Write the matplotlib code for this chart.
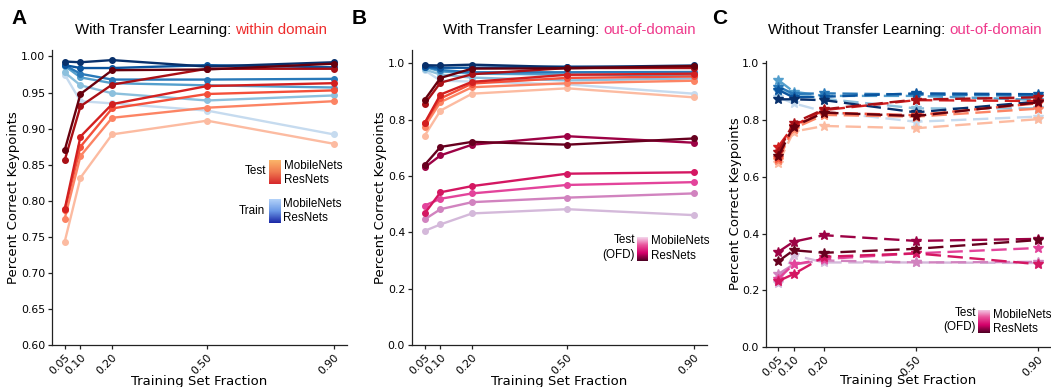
import matplotlib
matplotlib.use("Agg")
import matplotlib.pyplot as plt
import numpy as np
from matplotlib.colors import LinearSegmentedColormap

# data
fractions = [0.05, 0.10, 0.20, 0.50, 0.90]
frac_labels = ["0.05", "0.10", "0.20", "0.50", "0.90"]

# with transfer learning, within domain: test (reds), light -> dark
test_within = [
    [0.743, 0.832, 0.892, 0.911, 0.879],
    [0.775, 0.862, 0.915, 0.929, 0.938],
    [0.787, 0.875, 0.928, 0.948, 0.953],
    [0.788, 0.889, 0.934, 0.959, 0.963],
    [0.856, 0.931, 0.961, 0.983, 0.983],
    [0.870, 0.948, 0.981, 0.982, 0.990],
]
# train (blues), light -> dark
train_within = [
    [0.975, 0.938, 0.935, 0.925, 0.892],
    [0.978, 0.960, 0.949, 0.939, 0.946],
    [0.987, 0.971, 0.963, 0.960, 0.957],
    [0.988, 0.976, 0.968, 0.968, 0.969],
    [0.988, 0.984, 0.984, 0.988, 0.985],
    [0.993, 0.992, 0.995, 0.986, 0.992],
]
# with transfer learning, out-of-domain test (pinks)
test_ofd = [
    [0.405, 0.428, 0.467, 0.482, 0.461],
    [0.446, 0.482, 0.507, 0.523, 0.538],
    [0.495, 0.519, 0.538, 0.568, 0.578],
    [0.467, 0.542, 0.564, 0.608, 0.613],
    [0.630, 0.673, 0.711, 0.741, 0.718],
    [0.639, 0.703, 0.721, 0.711, 0.733],
]
# without transfer learning
train_notl = [
    [0.880, 0.859, 0.830, 0.794, 0.812],
    [0.904, 0.892, 0.875, 0.841, 0.841],
    [0.941, 0.900, 0.885, 0.885, 0.871],
    [0.918, 0.892, 0.894, 0.890, 0.885],
    [0.906, 0.880, 0.882, 0.894, 0.891],
    [0.873, 0.873, 0.870, 0.827, 0.865],
]
test_notl = [
    [0.647, 0.759, 0.779, 0.771, 0.803],
    [0.660, 0.770, 0.818, 0.812, 0.840],
    [0.665, 0.780, 0.826, 0.817, 0.859],
    [0.706, 0.780, 0.835, 0.870, 0.867],
    [0.688, 0.789, 0.838, 0.872, 0.880],
    [0.673, 0.777, 0.826, 0.814, 0.862],
]
ofd_notl = [
    [0.224, 0.324, 0.298, 0.298, 0.296],
    [0.257, 0.291, 0.305, 0.298, 0.300],
    [0.240, 0.291, 0.310, 0.330, 0.349],
    [0.232, 0.257, 0.318, 0.330, 0.292],
    [0.335, 0.371, 0.394, 0.374, 0.381],
    [0.302, 0.341, 0.332, 0.346, 0.377],
]

levels = [0.25, 0.42, 0.57, 0.72, 0.86, 1.0]
reds = [plt.cm.Reds(v) for v in levels]
blues = [plt.cm.Blues(v) for v in levels]
pinks = [plt.cm.PuRd(v) for v in levels]

SANS = "Liberation Sans"
W, H = 1051, 387
fig = plt.figure(figsize=(W / 100, H / 100), dpi=100)

axA = fig.add_axes([52 / W, (H - 345) / H, 295 / W, 295 / H])
axB = fig.add_axes([412 / W, (H - 345) / H, 295 / W, 295 / H])
axC = fig.add_axes([766 / W, (H - 347) / H, 285 / W, 286 / H])


def draw_lines(ax, series, colors, marker="o", ms=4, dashed=False):
    for vals, c in zip(series, colors):
        if dashed:
            ax.plot(fractions, vals, color=c, lw=1.7, marker=marker, ms=ms,
                    dashes=(6.5, 2.8))
        else:
            ax.plot(fractions, vals, color=c, lw=1.7, marker=marker, ms=ms)


draw_lines(axA, train_within, blues)
draw_lines(axA, test_within, reds)

draw_lines(axB, train_within, blues)
draw_lines(axB, test_within, reds)
draw_lines(axB, test_ofd, pinks)

draw_lines(axC, train_notl, blues, marker="*", ms=7, dashed=True)
draw_lines(axC, test_notl, reds, marker="*", ms=7, dashed=True)
draw_lines(axC, ofd_notl, pinks, marker="*", ms=7, dashed=True)

axA.set_ylim(0.6, 1.009)
axA.set_yticks(np.arange(0.60, 1.001, 0.05))
axA.set_yticklabels([f"{v:.2f}" for v in np.arange(0.60, 1.001, 0.05)])
for ax in (axB, axC):
    ax.set_yticks(np.arange(0, 1.01, 0.2))
    ax.set_yticklabels([f"{v:.1f}" for v in np.arange(0, 1.01, 0.2)])
axB.set_ylim(0, 1.047)
axC.set_ylim(0, 1.008)

for ax in (axA, axB, axC):
    ax.set_xlim(0.01, 0.942)
    ax.set_xticks(fractions)
    ax.set_xticklabels(frac_labels, rotation=45, ha="right",
                       rotation_mode="anchor")
    for s in ("top", "right"):
        ax.spines[s].set_visible(False)
    for s in ("left", "bottom"):
        ax.spines[s].set_linewidth(0.9)
        ax.spines[s].set_color("#222222")
    ax.tick_params(length=3, width=0.9, labelsize=7.8, color="#222222",
                   pad=2)
    ax.set_ylabel("Percent Correct Keypoints", fontsize=9.5)
    ax.set_xlabel("Training Set Fraction", fontsize=9.5)

axA.yaxis.set_label_coords(-0.108, 0.5)
axB.yaxis.set_label_coords(-0.085, 0.5)
axC.yaxis.set_label_coords(-0.084, 0.5)
axA.xaxis.set_label_coords(0.5, -0.1)
axB.xaxis.set_label_coords(0.5, -0.1)
axC.xaxis.set_label_coords(0.5, -0.096)


def px(x, y):
    return x / W, 1 - y / H


# panel letters
for letter, x in (("A", 11), ("B", 352), ("C", 712)):
    fig.text(*px(x, 18), letter, fontsize=15, fontweight="bold",
             family=SANS, va="center", ha="left")

# two-colour titles
titles = [
    (75, "With Transfer Learning: ", "within domain", "#ee2d2d"),
    (443, "With Transfer Learning: ", "out-of-domain", "#ef3a8c"),
    (768, "Without Transfer Learning: ", "out-of-domain", "#ef3a8c"),
]
for x0, first, second, col in titles:
    t = fig.text(*px(x0, 30), first, fontsize=10.8, family=SANS,
                 va="center", ha="left")
    plt.annotate(second, xy=(1, 0.5), xycoords=t, fontsize=10.8,
                 family=SANS, color=col, va="center", ha="left")


# gradient legends
def swatch(x0, y0, x1, y1, colors):
    cax = fig.add_axes([x0 / W, 1 - y1 / H, (x1 - x0) / W, (y1 - y0) / H])
    cmap = LinearSegmentedColormap.from_list("g", colors)
    grad = np.linspace(0, 1, 64).reshape(-1, 1)
    cax.imshow(grad, aspect="auto", cmap=cmap)
    cax.axis("off")


test_grad = ["#fbb569", "#f07a50", "#d6282c"]
train_grad = ["#b3d2f9", "#6a98e6", "#1b28a6"]
ofd_grad = ["#f4d6ec", "#e9529b", "#d4006a", "#4d0024"]

lg = dict(fontsize=8.4, family=SANS, va="center")
# panel A
swatch(269, 160, 281, 184, test_grad)
fig.text(*px(266, 171), "Test", ha="right", **lg)
fig.text(*px(284, 166), "MobileNets", ha="left", **lg)
fig.text(*px(284, 180), "ResNets", ha="left", **lg)
swatch(269, 199, 281, 223, train_grad)
fig.text(*px(265, 211), "Train", ha="right", **lg)
fig.text(*px(283, 204), "MobileNets", ha="left", **lg)
fig.text(*px(283, 218), "ResNets", ha="left", **lg)
# panel B
swatch(637, 237, 648, 261, ofd_grad)
fig.text(*px(635, 240), "Test", ha="right", **lg)
fig.text(*px(635, 255), "(OFD)", ha="right", **lg)
fig.text(*px(651, 241), "MobileNets", ha="left", **lg)
fig.text(*px(651, 256), "ResNets", ha="left", **lg)
# panel C
swatch(978, 310, 990, 333, ofd_grad)
fig.text(*px(976, 313), "Test", ha="right", **lg)
fig.text(*px(976, 327), "(OFD)", ha="right", **lg)
fig.text(*px(993, 315), "MobileNets", ha="left", **lg)
fig.text(*px(993, 329), "ResNets", ha="left", **lg)

fig.savefig("out.png", dpi=100)
